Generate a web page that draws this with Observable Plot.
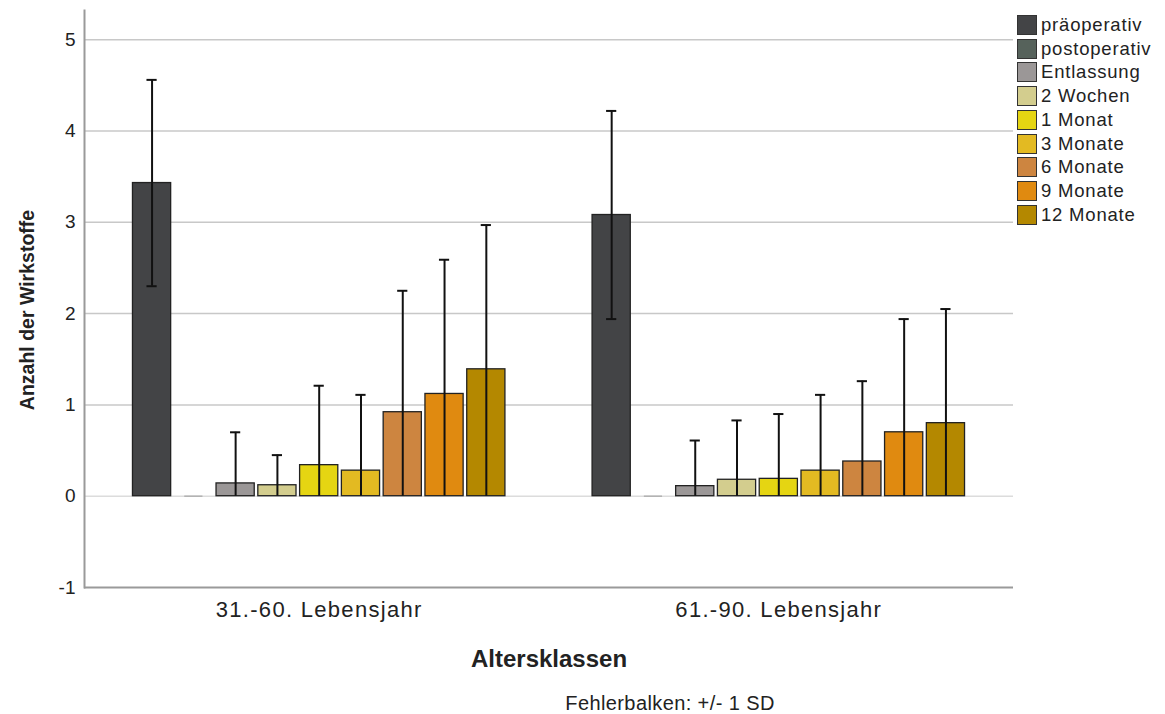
<!DOCTYPE html>
<html>
<head>
<meta charset="utf-8">
<script src="https://cdn.jsdelivr.net/npm/d3@7"></script>
<script src="https://cdn.jsdelivr.net/npm/@observablehq/plot@0.6"></script>
<style>
  body { margin: 0; background: #fff; }
  #wrap { position: relative; width: 1165px; height: 714px; font-family: "Liberation Sans", Arial, sans-serif; color: #222; }
  #legend { position: absolute; left: 1017px; top: 13px; }
  .row { height: 23.75px; display: flex; align-items: center; font-size: 18.5px; letter-spacing: 0.8px; }
  .sw { width: 18px; height: 18px; border: 1.5px solid #333; margin-right: 4px; flex: none; }
  #caption { position: absolute; left: 470px; width: 400px; top: 691px; text-align: center; font-size: 20px; line-height: 24px; letter-spacing: 0.4px; }
  g[aria-label="x-axis label"] text { font-size: 24px; font-weight: bold; }
  g[aria-label="y-axis label"] text { font-size: 19.5px; font-weight: bold; }
  g[aria-label="x-axis tick label"] text { letter-spacing: 1.3px; }
</style>
</head>
<body>
<div id="wrap">
  <div id="chart"></div>
  <div id="legend"></div>
  <div id="caption"></div>
</div>
<script>
const groups = ["31.-60. Lebensjahr", "61.-90. Lebensjahr"];
const timepoints = ["präoperativ", "postoperativ", "Entlassung", "2 Wochen", "1 Monat", "3 Monate", "6 Monate", "9 Monate", "12 Monate"];
const colors = ["#434446", "#56625b", "#9b9797", "#d3cd8e", "#e5d512", "#e3ba22", "#cd8540", "#e08a10", "#b48800"];
const means1 = [3.43, 0, 0.14, 0.12, 0.34, 0.28, 0.92, 1.12, 1.39];
const sd1    = [1.13, 0, 0.56, 0.33, 0.87, 0.83, 1.33, 1.47, 1.58];
const means2 = [3.08, 0, 0.11, 0.18, 0.19, 0.28, 0.38, 0.70, 0.80];
const sd2    = [1.14, 0, 0.50, 0.65, 0.71, 0.83, 0.88, 1.24, 1.25];
const yTicks = [-1, 0, 1, 2, 3, 4, 5];
const yLabel = "Anzahl der Wirkstoffe";
const xLabel = "Altersklassen";
const captionText = "Fehlerbalken: +/- 1 SD";

const means = [means1, means2];
const sds = [sd1, sd2];
const data = [];
groups.forEach((g, gi) => timepoints.forEach((t, ti) => {
  data.push({group: g, time: t, key: g + "|" + t, mean: means[gi][ti], sd: sds[gi][ti]});
}));
const xDomain = [
  ...timepoints.map(t => groups[0] + "|" + t),
  "gap1", "gap2",
  ...timepoints.map(t => groups[1] + "|" + t)
];
const err = data.filter(d => d.sd > 0);
const centerKeys = groups.map(g => g + "|" + timepoints[4]);

const chart = Plot.plot({
  width: 1165,
  height: 680,
  marginTop: 10,
  marginBottom: 93,
  marginLeft: 84,
  marginRight: 152,
  style: {fontFamily: "Liberation Sans, Arial, sans-serif", color: "#222", background: "#fff"},
  x: {type: "band", domain: xDomain, paddingInner: 0.086, paddingOuter: 1.16, align: 0.5, round: false},
  y: {domain: [-1, 5.32]},
  color: {domain: timepoints, range: colors},
  marks: [
    Plot.gridY({ticks: [1, 2, 3, 4, 5], stroke: "#c8c8c8", strokeOpacity: 1, strokeWidth: 1.5}),
    Plot.gridY({ticks: [0], stroke: "#dcdcdc", strokeOpacity: 1, strokeWidth: 1.5}),
    Plot.ruleY([-1], {stroke: "#9a9a9a", strokeWidth: 2}),
    Plot.frame({anchor: "left", stroke: "#9a9a9a", strokeWidth: 2}),
    Plot.barY(data, {x: "key", y: "mean", fill: "time", stroke: "#222", strokeWidth: 1.3}),
    Plot.tickY(data.filter(d => d.mean === 0), {x: "key", y: 0, stroke: "#b0b0b0", strokeWidth: 1.5, insetLeft: 10, insetRight: 10}),
    Plot.ruleX(err, {x: "key", y1: d => Math.max(0, d.mean - d.sd), y2: d => d.mean + d.sd, stroke: "#111", strokeWidth: 2}),
    Plot.tickY(err, {x: "key", y: d => d.mean + d.sd, stroke: "#111", strokeWidth: 2, insetLeft: 14, insetRight: 14}),
    Plot.tickY(err.filter(d => d.mean - d.sd > 0), {x: "key", y: d => d.mean - d.sd, stroke: "#111", strokeWidth: 2, insetLeft: 14, insetRight: 14}),
    Plot.axisY({ticks: yTicks, tickFormat: d => String(d), tickSize: 0, tickPadding: 9, fontSize: 19, label: null}),
    Plot.axisY({ticks: [], label: yLabel, labelAnchor: "center", labelArrow: "none", labelOffset: 64, fontSize: 19, fontWeight: "bold"}),
    Plot.axisX({ticks: centerKeys, tickFormat: d => d.split("|")[0], tickSize: 0, tickPadding: 14, fontSize: 22, label: xLabel, labelAnchor: "center", labelArrow: "none", labelOffset: 79})
  ]
});
d3.select(chart).selectAll('g[aria-label="y-axis label"] text').attr("dx", -11);
document.getElementById("chart").appendChild(chart);

const legend = d3.select("#legend");
timepoints.forEach((t, i) => {
  const r = legend.append("div").attr("class", "row");
  r.append("div").attr("class", "sw").style("background", colors[i]);
  r.append("span").text(t);
});
document.getElementById("caption").textContent = captionText;
</script>
</body>
</html>
